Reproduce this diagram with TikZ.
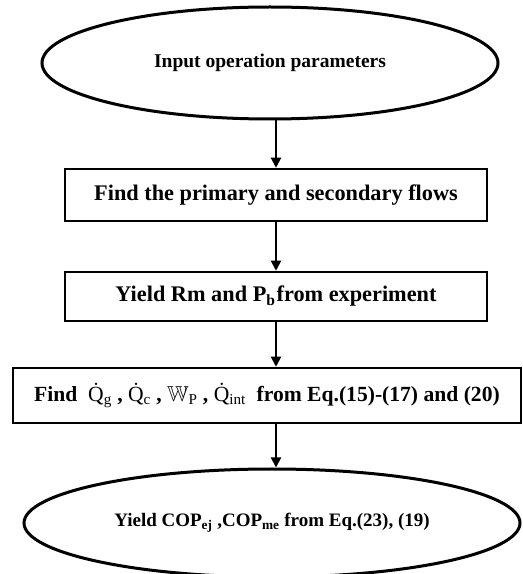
\documentclass[tikz,border=0pt]{standalone}
\usepackage{amssymb}
\usepackage{fontspec}
\setmainfont{Liberation Serif}
\usetikzlibrary{shapes.geometric,arrows.meta}
\newcommand\qdot[1]{{\mdseries\.{Q}\textsubscript{#1}}}
\tikzset{
  oval/.style={ellipse, draw, line width=3pt, inner sep=0pt, font=\bfseries},
  stepbox/.style={rectangle, draw, line width=2.5pt, inner sep=0pt, font=\bfseries},
  arr/.style={line width=2pt, -{Triangle[length=10pt,width=10pt]}}
}
\begin{document}
\begin{tikzpicture}[x=1pt,y=1pt]
\useasboundingbox (0,0) rectangle (523,574);
\node[oval, minimum width=456pt, minimum height=112pt, font=\bfseries\fontsize{19.5}{23}\selectfont] (e1) at (270,511) {Input operation parameters};
\node[stepbox, minimum width=422pt, minimum height=52pt, font=\bfseries\fontsize{22.3}{26}\selectfont] (b1) at (276,379) {Find the primary and secondary flows};
\node[stepbox, minimum width=422pt, minimum height=49pt, font=\bfseries\fontsize{22.3}{26}\selectfont] (b2) at (276,277.5) {Yield Rm and P\textsubscript{b}\hspace{1pt}from experiment};
\node[stepbox, minimum width=508pt, minimum height=55pt, font=\bfseries\fontsize{21.6}{26}\selectfont] (b3) at (267,178.5) {Find \ \qdot{g} , \qdot{c} , {\mdseries$\mathbb{W}$\textsubscript{P}} , \qdot{int} \ from Eq.(15)-(17) and (20)};
\node[oval, minimum width=496pt, minimum height=108pt, font=\bfseries\fontsize{19}{22}\selectfont] (e2) at (272,51) {Yield COP\textsubscript{ej} ,COP\textsubscript{me} from Eq.(23), (19)};
\draw[arr] (e1.south -| b1.north) -- (b1.north);
\draw[arr] (b1.south) -- (b2.north);
\draw[arr] (b2.south) -- (b2.south |- b3.north);
\draw[arr] (b3.south -| b2.south) -- (e2.north -| b2.south);
\end{tikzpicture}
\end{document}
